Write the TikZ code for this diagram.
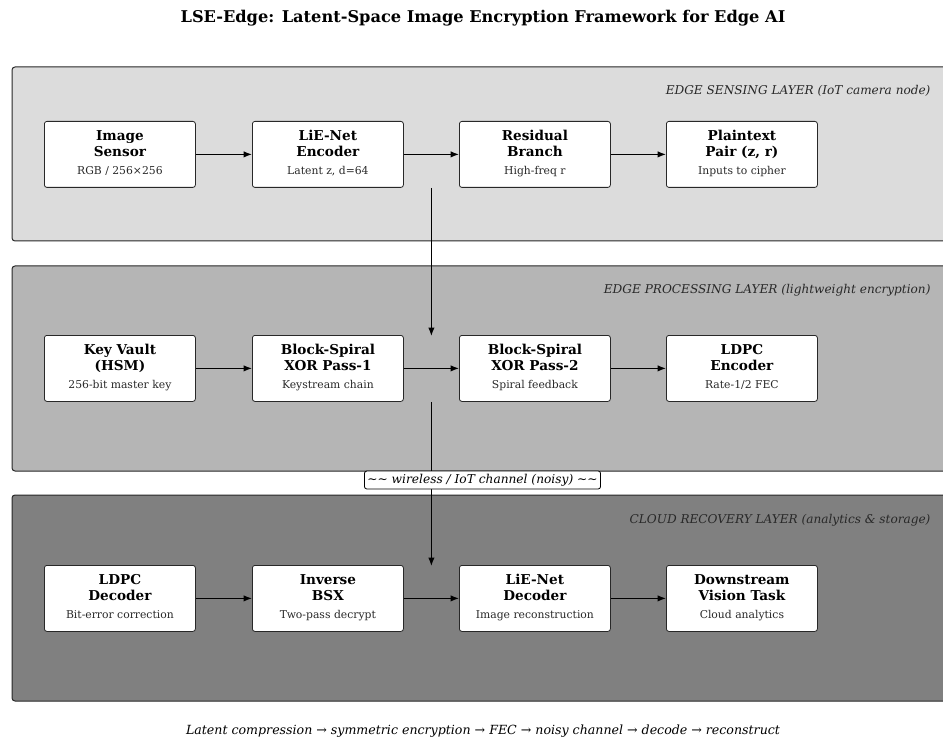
\documentclass[tikz,border=0pt]{standalone}
\usepackage{fontspec}
\setmainfont{DejaVu Serif}
\usetikzlibrary{arrows.meta,calc}
\definecolor{panelA}{RGB}{220,220,220}
\definecolor{panelB}{RGB}{181,181,181}
\definecolor{panelC}{RGB}{128,128,128}
\definecolor{edgegray}{RGB}{40,40,40}
\definecolor{subtxt}{RGB}{40,40,40}
\tikzset{
  panel/.style={draw=edgegray, line width=1pt, rounded corners=3pt},
  blk/.style={draw=edgegray, fill=white, line width=0.8pt, rounded corners=2.5pt,
    minimum width=151pt, minimum height=66pt, inner sep=0pt, anchor=north west},
  flow/.style={-{Latex[length=8.5pt,width=6.5pt]}, line width=1.2pt, black},
  layerlbl/.style={anchor=east, font=\fontsize{12.1}{14}\selectfont\itshape, text=subtxt},
}
\newcommand{\blktext}[3]{\fontsize{13.6}{16}\selectfont\raisebox{2pt}{\begin{tabular}{@{}c@{}}\bfseries #1\\\bfseries #2\\[2pt]\fontsize{10.8}{13}\selectfont\color{subtxt}#3\end{tabular}}}
\begin{document}
\begin{tikzpicture}[x=1pt,y=-1pt]
\useasboundingbox (0,0) rectangle (943,738);
\clip (0,0) rectangle (943,738);
\fill[white] (0,0) rectangle (943,738);
% title
\node (title) at (483,18) {\fontsize{16.2}{19}\selectfont\bfseries LSE-Edge: Latent-Space Image Encryption Framework for Edge AI};
% panels
\draw[panel, fill=panelA] (12,67) rectangle (960,241);
\draw[panel, fill=panelB] (12,266) rectangle (960,471);
\draw[panel, fill=panelC] (12,495) rectangle (960,701);
\node[layerlbl] (l1) at (934,91) {EDGE SENSING LAYER (IoT camera node)};
\node[layerlbl] (l2) at (934,290) {EDGE PROCESSING LAYER (lightweight encryption)};
\node[layerlbl] (l3) at (934,520) {CLOUD RECOVERY LAYER (analytics \& storage)};
% row 1
\node[blk] (sensor) at (44,121) {\blktext{Image}{Sensor}{RGB / 256×256}};
\node[blk] (enc) at (252,121) {\blktext{LiE-Net}{Encoder}{Latent z, d=64}};
\node[blk] (res) at (459,121) {\blktext{Residual}{Branch}{High-freq r}};
\node[blk] (pair) at (666,121) {\blktext{Plaintext}{Pair (z, r)}{Inputs to cipher}};
% row 2
\node[blk] (key) at (44,335) {\blktext{Key Vault}{(HSM)}{256-bit master key}};
\node[blk] (bsx1) at (252,335) {\blktext{Block-Spiral}{XOR Pass-1}{Keystream chain}};
\node[blk] (bsx2) at (459,335) {\blktext{Block-Spiral}{XOR Pass-2}{Spiral feedback}};
\node[blk] (ldpce) at (666,335) {\blktext{LDPC}{Encoder}{Rate-1/2 FEC}};
% row 3
\node[blk] (ldpcd) at (44,565) {\blktext{LDPC}{Decoder}{Bit-error correction}};
\node[blk] (ibsx) at (252,565) {\blktext{Inverse}{BSX}{Two-pass decrypt}};
\node[blk] (dec) at (459,565) {\blktext{LiE-Net}{Decoder}{Image reconstruction}};
\node[blk] (task) at (666,565) {\blktext{Downstream}{Vision Task}{Cloud analytics}};
% horizontal arrows
\foreach \a/\b in {sensor/enc, enc/res, res/pair, key/bsx1, bsx1/bsx2, bsx2/ldpce, ldpcd/ibsx, ibsx/dec, dec/task}
  \draw[flow] (\a.east) -- (\b.west);
% vertical arrows
\coordinate (v1s) at ($(enc.south east)!0.5!(res.south west)$);
\coordinate (v1e) at ($(bsx1.north east)!0.5!(bsx2.north west)$);
\coordinate (v2s) at ($(bsx1.south east)!0.5!(bsx2.south west)$);
\coordinate (v2e) at ($(ibsx.north east)!0.5!(dec.north west)$);
\draw[flow] (v1s) -- ([yshift=-1pt]v1e);
\draw[flow] (v2s) -- ([yshift=-1pt]v2e);
\node[draw=black, fill=white, line width=0.8pt, rounded corners=2.5pt, inner xsep=3pt, inner ysep=2pt, minimum height=18pt, font=\fontsize{12.2}{14}\selectfont\itshape] (chan) at (482.5,480) {\textasciitilde\textasciitilde{} wireless / IoT channel (noisy) \textasciitilde\textasciitilde};
% footer
\node[font=\fontsize{12.6}{14}\selectfont\itshape] (foot) at (483,731) {Latent compression → symmetric encryption → FEC → noisy channel → decode → reconstruct};
\end{tikzpicture}
\end{document}
